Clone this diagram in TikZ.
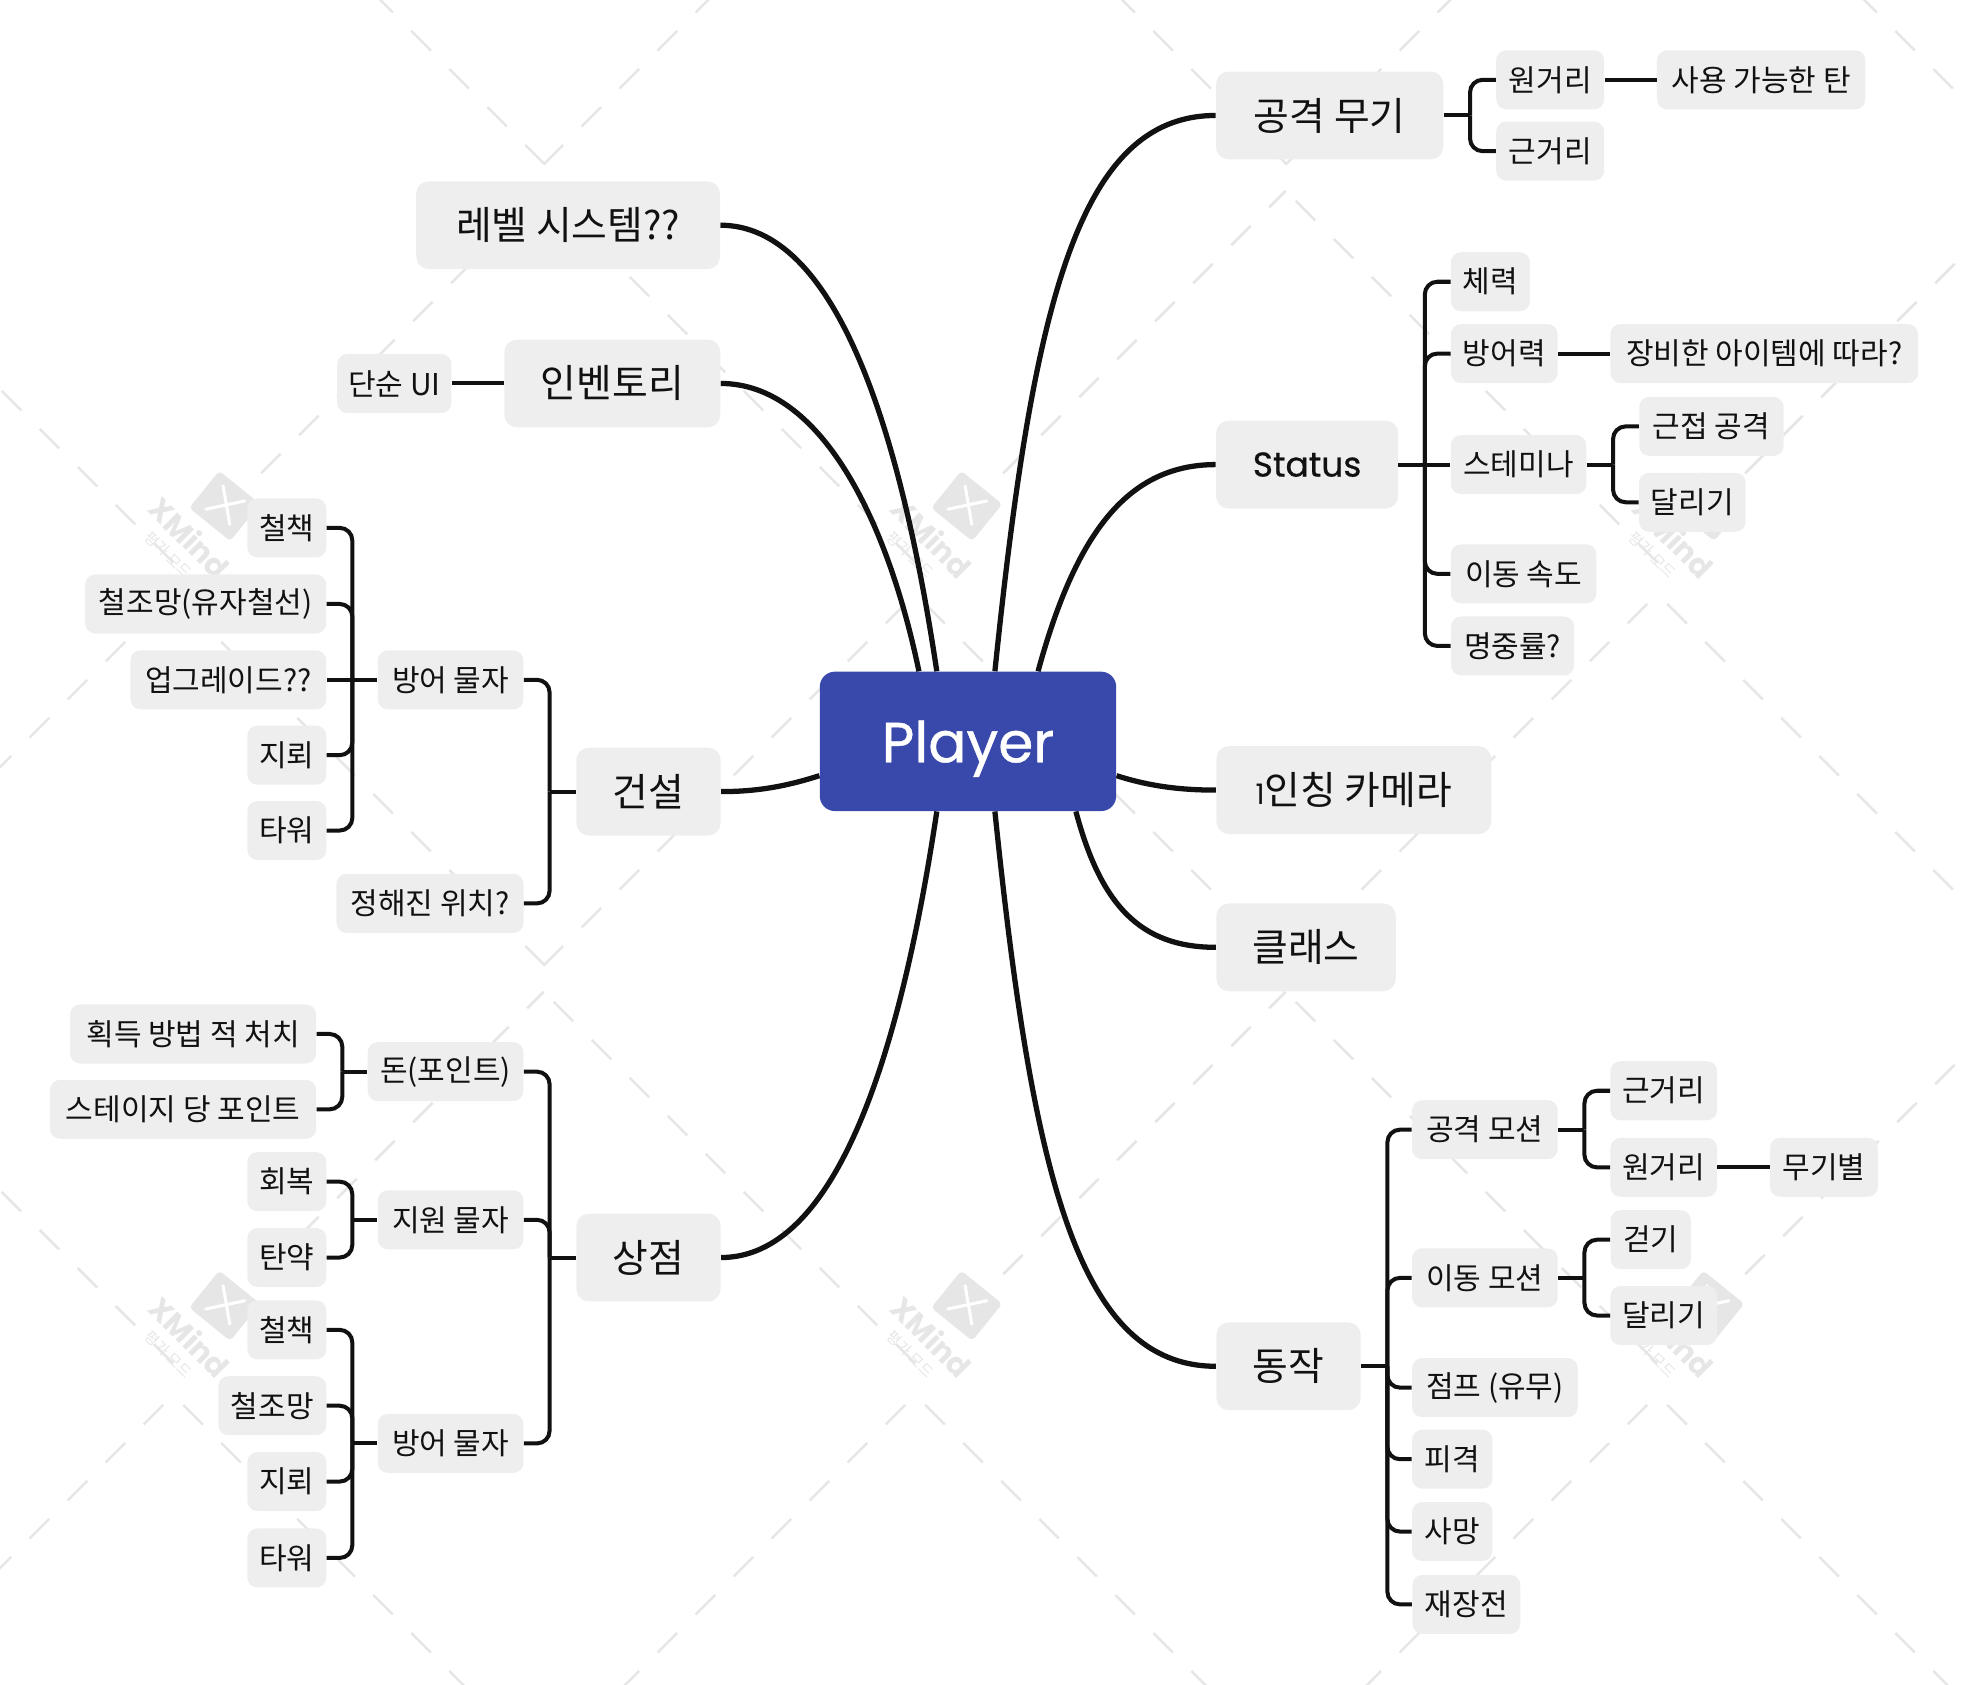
\documentclass[tikz,border=0pt]{standalone}
\usepackage{fontspec}
\setmainfont{Noto Sans CJK KR}
\newfontfamily\titlefont{Poppins}
\newfontfamily\rootfont[FakeBold=0.7]{Poppins}
\usetikzlibrary{positioning,backgrounds}

\definecolor{boxgray}{HTML}{EEEEEE}
\definecolor{rootblue}{HTML}{3949AB}
\definecolor{inkblack}{HTML}{111111}
\definecolor{markgray}{HTML}{E6E6E6}

\tikzset{
  topic/.style={fill=boxgray, text=inkblack, inner sep=0pt, rounded corners=0.25cm,
    minimum height=1.75cm, minimum width=#1*0.025cm, font=\fontsize{22}{26}\selectfont},
  leaf/.style={fill=boxgray, text=inkblack, inner sep=0pt, rounded corners=0.2cm,
    minimum height=1.175cm, minimum width=#1*0.025cm, font=\fontsize{17}{20}\selectfont},
  branch/.style={draw=inkblack, line width=0.105cm},
  link/.style={draw=inkblack, line width=0.08cm},
  elbow/.style={link, rounded corners=0.25cm},
  markline/.style={draw=markgray, line width=0.05cm, dash pattern=on 0.55cm off 0.52cm},
  marklogo/.style={fill=markgray, rounded corners=0.08cm, minimum width=1.05cm, minimum height=0.95cm, inner sep=0pt},
  markx/.style={draw=white, line width=0.06cm, line cap=round}
}

\begin{document}
\begin{tikzpicture}[x=0.025cm, y=-0.025cm]
  \useasboundingbox (0,0) rectangle (1567.5,1341.3);
  \node[fill=rootblue, text=white, inner sep=0pt, rounded corners=0.3cm, minimum width=5.9cm, minimum height=2.775cm,
    text depth=0pt, font=\rootfont\fontsize{32}{38}\selectfont] (Player) at (771,590.5) {Player};

  % right side
  \node[topic=181, on grid, above right=12.46cm and 7.2cm of Player] (Attack) {공격 무기};
  \node[leaf=86, on grid, above right=0.71cm and 4.39cm of Attack] (AtkFar) {원거리};
  \node[leaf=166, on grid, right=4.2cm of AtkFar] (AtkAmmo) {사용 가능한 탄};
  \node[leaf=86, on grid, below right=0.71cm and 4.39cm of Attack] (AtkNear) {근거리};

  \node[topic=145, on grid, above right=5.51cm and 6.75cm of Player, font=\rootfont\fontsize{19.5}{24}\selectfont] (Status) {Status};
  \node[leaf=63, on grid, above right=3.64cm and 3.65cm of Status] (Hp) {체력};
  \node[leaf=85, on grid, above right=2.21cm and 3.925cm of Status] (Def) {방어력};
  \node[leaf=245, on grid, right=5.175cm of Def] (DefNote) {장비한 아이템에 따라?};
  \node[leaf=108, on grid, right=4.21cm of Status] (Stamina) {스테미나};
  \node[leaf=115, on grid, above right=0.76cm and 3.84cm of Stamina] (StaMelee) {근접 공격};
  \node[leaf=85, on grid, below right=0.75cm and 3.46cm of Stamina] (StaRun) {달리기};
  \node[leaf=116, on grid, below right=2.175cm and 4.31cm of Status] (Speed) {이동 속도};
  \node[leaf=98, on grid, below right=3.61cm and 4.09cm of Status] (Accuracy) {명중률?};

  \node[topic=219, on grid, below right=0.97cm and 7.68cm of Player] (Camera) {{\titlefont\fontsize{16}{20}\selectfont 1}인칭 카메라};
  \node[topic=143, on grid, below right=4.1cm and 6.73cm of Player] (Class) {클래스};

  \node[topic=115, on grid, below right=12.44cm and 6.38cm of Player] (Motion) {동작};
  \node[leaf=116, on grid, above right=4.71cm and 3.91cm of Motion] (MoAttack) {공격 모션};
  \node[leaf=85, on grid, above right=0.775cm and 3.56cm of MoAttack] (MoNear) {근거리};
  \node[leaf=85, on grid, below right=0.75cm and 3.56cm of MoAttack] (MoFar) {원거리};
  \node[leaf=86, on grid, right=3.19cm of MoFar] (MoWeapon) {무기별};
  \node[leaf=116, on grid, above right=1.76cm and 3.91cm of Motion] (MoMove) {이동 모션};
  \node[leaf=64, on grid, above right=0.76cm and 3.3cm of MoMove] (MoWalk) {걷기};
  \node[leaf=85, on grid, below right=0.75cm and 3.56cm of MoMove] (MoRun) {달리기};
  \node[leaf=132, on grid, below right=0.425cm and 4.11cm of Motion] (Jump) {점프 (유무)};
  \node[leaf=64, on grid, below right=1.85cm and 3.26cm of Motion] (Hit) {피격};
  \node[leaf=64, on grid, below right=3.29cm and 3.26cm of Motion] (Death) {사망};
  \node[leaf=86, on grid, below right=4.74cm and 3.54cm of Motion] (Reload) {재장전};

  % left side
  \node[topic=242, on grid, above left=10.275cm and 7.96cm of Player] (Level) {레벨 시스템??};
  \node[topic=172, on grid, above left=7.125cm and 7.08cm of Player] (Inventory) {인벤토리};
  \node[leaf=91, on grid, left=4.34cm of Inventory] (SimpleUi) {단순 UI};

  \node[topic=115, on grid, below left=1cm and 6.36cm of Player] (Build) {건설};
  \node[leaf=116, on grid, above left=2.225cm and 3.94cm of Build] (BuildMat) {방어 물자};
  \node[leaf=63, on grid, above left=3.025cm and 3.26cm of BuildMat] (Fence) {철책};
  \node[leaf=192, on grid, above left=1.51cm and 4.875cm of BuildMat] (Wire) {철조망(유자철선)};
  \node[leaf=156, on grid, left=4.425cm of BuildMat] (Upgrade) {업그레이드??};
  \node[leaf=63, on grid, below left=1.5cm and 3.26cm of BuildMat] (Mine) {지뢰};
  \node[leaf=63, on grid, below left=3cm and 3.26cm of BuildMat] (Tower) {타워};
  \node[leaf=149, on grid, below left=2.225cm and 4.35cm of Build] (Spot) {정해진 위치?};

  \node[topic=115, on grid, below left=10.275cm and 6.36cm of Player] (Shop) {상점};
  \node[leaf=124, on grid, above left=3.7cm and 4.04cm of Shop] (Money) {돈(포인트)};
  \node[leaf=196, on grid, above left=0.75cm and 5.025cm of Money] (Kill) {획득 방법 적 처치};
  \node[leaf=212, on grid, below left=0.75cm and 5.225cm of Money] (Stage) {스테이지 당 포인트};
  \node[leaf=116, on grid, above left=0.75cm and 3.94cm of Shop] (Aid) {지원 물자};
  \node[leaf=63, on grid, above left=0.76cm and 3.26cm of Aid] (Heal) {회복};
  \node[leaf=63, on grid, below left=0.75cm and 3.26cm of Aid] (Ammo) {탄약};
  \node[leaf=116, on grid, below left=3.7cm and 3.94cm of Shop] (ShopMat) {방어 물자};
  \node[leaf=63, on grid, above left=2.26cm and 3.26cm of ShopMat] (FenceB) {철책};
  \node[leaf=86, on grid, above left=0.75cm and 3.55cm of ShopMat] (WireB) {철조망};
  \node[leaf=63, on grid, below left=0.76cm and 3.26cm of ShopMat] (MineB) {지뢰};
  \node[leaf=63, on grid, below left=2.28cm and 3.26cm of ShopMat] (TowerB) {타워};

  % connectors, right
  \draw[link] (Attack.east) -- ++(21,0) coordinate (AttackHub);
  \draw[elbow] (AttackHub) |- (AtkFar.west);
  \draw[elbow] (AttackHub) |- (AtkNear.west);
  \draw[link] (AtkFar) -- (AtkAmmo);
  \draw[link] (Status.east) -- ++(21,0) coordinate (StatusHub) -- (Stamina.west);
  \draw[elbow] (StatusHub) |- (Hp.west);
  \draw[elbow] (StatusHub) |- (Def.west);
  \draw[elbow] (StatusHub) |- (Speed.west);
  \draw[elbow] (StatusHub) |- (Accuracy.west);
  \draw[link] (Def) -- (DefNote);
  \draw[link] (Stamina.east) -- ++(21,0) coordinate (StaminaHub);
  \draw[elbow] (StaminaHub) |- (StaMelee.west);
  \draw[elbow] (StaminaHub) |- (StaRun.west);
  \draw[link] (Motion.east) -- ++(21,0) coordinate (MotionHub);
  \draw[elbow] (MotionHub) |- (MoAttack.west);
  \draw[elbow] (MotionHub) |- (MoMove.west);
  \draw[elbow] (MotionHub) |- (Jump.west);
  \draw[elbow] (MotionHub) |- (Hit.west);
  \draw[elbow] (MotionHub) |- (Death.west);
  \draw[elbow] (MotionHub) |- (Reload.west);
  \draw[link] (MoAttack.east) -- ++(21,0) coordinate (MoAttackHub);
  \draw[elbow] (MoAttackHub) |- (MoNear.west);
  \draw[elbow] (MoAttackHub) |- (MoFar.west);
  \draw[link] (MoFar) -- (MoWeapon);
  \draw[link] (MoMove.east) -- ++(21,0) coordinate (MoMoveHub);
  \draw[elbow] (MoMoveHub) |- (MoWalk.west);
  \draw[elbow] (MoMoveHub) |- (MoRun.west);

  % connectors, left
  \draw[link] (Inventory) -- (SimpleUi);
  \draw[link] (Build.west) -- ++(-21,0) coordinate (BuildHub);
  \draw[elbow] (BuildHub) |- (BuildMat.east);
  \draw[elbow] (BuildHub) |- (Spot.east);
  \draw[link] (BuildMat.west) -- ++(-20,0) coordinate (BuildMatHub) -- (Upgrade.east);
  \draw[elbow] (BuildMatHub) |- (Fence.east);
  \draw[elbow] (BuildMatHub) |- (Wire.east);
  \draw[elbow] (BuildMatHub) |- (Mine.east);
  \draw[elbow] (BuildMatHub) |- (Tower.east);
  \draw[link] (Shop.west) -- ++(-21,0) coordinate (ShopHub);
  \draw[elbow] (ShopHub) |- (Money.east);
  \draw[elbow] (ShopHub) |- (Aid.east);
  \draw[elbow] (ShopHub) |- (ShopMat.east);
  \draw[link] (Money.west) -- ++(-20,0) coordinate (MoneyHub);
  \draw[elbow] (MoneyHub) |- (Kill.east);
  \draw[elbow] (MoneyHub) |- (Stage.east);
  \draw[link] (Aid.west) -- ++(-20,0) coordinate (AidHub);
  \draw[elbow] (AidHub) |- (Heal.east);
  \draw[elbow] (AidHub) |- (Ammo.east);
  \draw[link] (ShopMat.west) -- ++(-20,0) coordinate (ShopMatHub);
  \draw[elbow] (ShopMatHub) |- (FenceB.east);
  \draw[elbow] (ShopMatHub) |- (WireB.east);
  \draw[elbow] (ShopMatHub) |- (MineB.east);
  \draw[elbow] (ShopMatHub) |- (TowerB.east);

  \begin{scope}[on background layer]
    % trial watermark
    \begin{scope}
      \clip (0,0) rectangle (1567.5,1341.3);
      \foreach \k in {-1,0,1,2} \foreach \j in {-1,0,1,2} {
        \begin{scope}[shift={(\k*591,\j*638)}]
          \draw[markline] (208,377) -- (433,152);
          \draw[markline] (729,448) -- (433,152);
          \draw[markline] (1025,769) -- (729,473);
          \draw[markline] (433,769) -- (729,473);
        \end{scope}
      }
    \end{scope}
    \foreach \k in {0,1,2} \foreach \j in {0,1} {
      \begin{scope}[shift={(\k*591,\j*637)}]
        \node[marklogo, rotate=-39] (Logo) at (179,403) {};
        \draw[markx] (Logo.center) ++(-1.3,-16) -- ++(5.3,30.6);
        \draw[markx] (Logo.center) ++(-15,2.6) -- ++(31,-6.6);
        \node[rotate=-45, text=markgray, font=\titlefont\bfseries\fontsize{17}{20}\selectfont] (LogoName) at (151,428) {XMind};
        \node[rotate=-45, text=markgray, font=\fontsize{8.5}{10}\selectfont] (LogoNote) at (134,442) {평가 모드};
      \end{scope}
    }
    \draw[branch] (Player.69) .. controls +(30,-290) and +(-110,0) .. (Attack.west);
    \draw[branch] (Player.45) .. controls +(30,-110) and +(-70,0) .. (Status.west);
    \draw[branch] (Player.-13) .. controls +(25,8) and +(-30,0) .. (Camera.west);
    \draw[branch] (Player.-33) .. controls +(20,75) and +(-60,0) .. (Class.west);
    \draw[branch] (Player.-69) .. controls +(30,290) and +(-110,0) .. (Motion.west);
    \draw[branch] (Player.114) .. controls +(-30,-200) and +(90,0) .. (Level.east);
    \draw[branch] (Player.125) .. controls +(-25,-120) and +(80,0) .. (Inventory.east);
    \draw[branch] (Player.193.5) .. controls +(-25,8) and +(30,0) .. (Build.east);
    \draw[branch] (Player.246) .. controls +(-30,200) and +(90,0) .. (Shop.east);
  \end{scope}
\end{tikzpicture}
\end{document}
